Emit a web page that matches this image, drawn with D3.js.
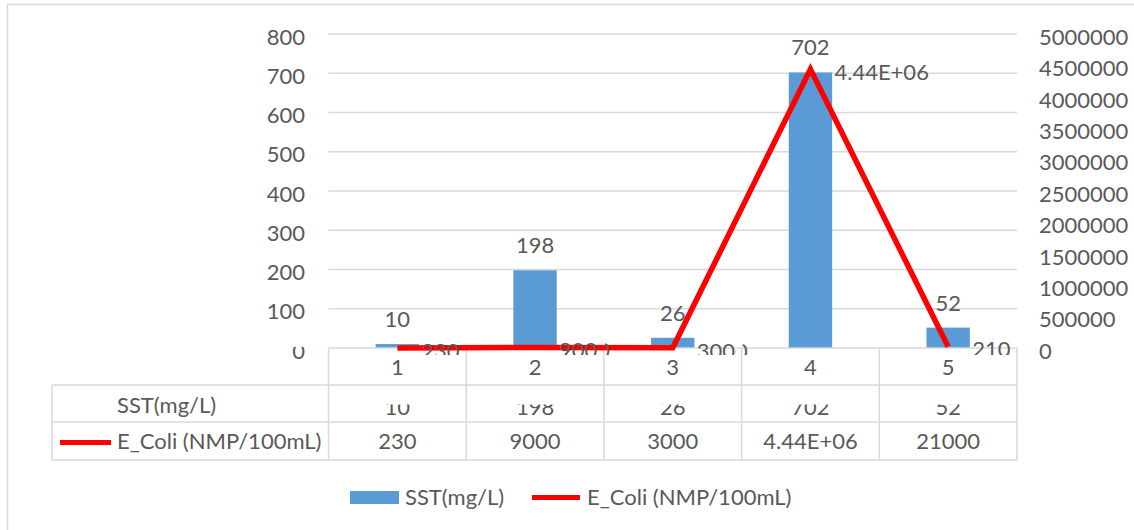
<!DOCTYPE html>
<html>
<head>
<meta charset="utf-8">
<script src="https://cdn.jsdelivr.net/npm/d3@7"></script>
<style>
  html, body { margin: 0; padding: 0; background: #fff; }
  svg { display: block; }
  text { font-family: Lato, "Open Sans", sans-serif; fill: #595959; }
</style>
</head>
<body>
<svg id="chart" width="1134" height="530"></svg>
<script>
const categories = ["1", "2", "3", "4", "5"];
const sstValues = [10, 198, 26, 702, 52];
const ecoliValues = [230, 9000, 3000, 4440000, 21000];
const ecoliLabels = ["230", "9000", "3000", "4.44E+06", "21000"];
const leftTicks = [0, 100, 200, 300, 400, 500, 600, 700, 800];
const rightTicks = [0, 500000, 1000000, 1500000, 2000000, 2500000, 3000000, 3500000, 4000000, 4500000, 5000000];
const SST_NAME = "SST(mg/L)";
const ECOLI_NAME = "E_Coli (NMP/100mL)";

const BAR_COLOR = "#5b9bd5";
const LINE_COLOR = "#ff0000";
const GRID_COLOR = "#d9d9d9";
const FONT_SIZE = 22;

const svg = d3.select("#chart");

const plot = { left: 328.5, right: 1017, top: 34, bottom: 348 };
const table = { left: 52, rowCat: 385, rowSst: 422, rowEcoli: 460 };

const x = d3.scaleBand().domain(categories).range([plot.left, plot.right]);
const yLeft = d3.scaleLinear().domain([0, 800]).range([plot.bottom, plot.top]);
const yRight = d3.scaleLinear().domain([0, 5000000]).range([plot.bottom, plot.top]);
const barWidth = x.bandwidth() * 0.315;
const cx = (d) => x(d) + x.bandwidth() / 2;

// chart frame (only the left and top edges are inside the picture)
svg.append("path")
  .attr("d", `M7.5,540V4.5H1140`)
  .attr("fill", "none")
  .attr("stroke", GRID_COLOR)
  .attr("stroke-width", 1.5);

const defs = svg.append("defs");
// labels are clipped by the plot area, and near the axis by each table cell
const labelClip = defs.append("clipPath").attr("id", "label-clip");
labelClip.append("rect")
  .attr("x", plot.left).attr("y", 0)
  .attr("width", plot.right - plot.left).attr("height", 340);
labelClip.selectAll("rect.cell")
  .data(categories)
  .join("rect")
  .attr("class", "cell")
  .attr("x", (d) => x(d) + 1)
  .attr("y", 339)
  .attr("width", x.bandwidth() - 7)
  .attr("height", 16);
defs.append("clipPath").attr("id", "zero-clip")
  .append("rect").attr("x", 0).attr("y", 347).attr("width", 330).attr("height", 30);
defs.append("clipPath").attr("id", "sst-row-clip")
  .append("rect").attr("x", plot.left).attr("y", 404.5).attr("width", 700).attr("height", 20);

// gridlines
svg.append("g")
  .selectAll("line")
  .data(leftTicks.filter((t) => t > 0))
  .join("line")
  .attr("x1", plot.left).attr("x2", plot.right)
  .attr("y1", (d) => yLeft(d)).attr("y2", (d) => yLeft(d))
  .attr("stroke", GRID_COLOR)
  .attr("stroke-width", 1.5);

// left axis labels
svg.append("g")
  .selectAll("text")
  .data(leftTicks)
  .join("text")
  .attr("x", 305)
  .attr("y", (d) => yLeft(d) + 3)
  .attr("dy", "0.35em")
  .attr("text-anchor", "end")
  .attr("clip-path", (d) => (d === 0 ? "url(#zero-clip)" : null))
  .style("font-size", FONT_SIZE + "px")
  .text((d) => d);

// right axis labels
svg.append("g")
  .selectAll("text")
  .data(rightTicks)
  .join("text")
  .attr("x", 1039)
  .attr("y", (d) => yRight(d) + 3)
  .attr("dy", "0.35em")
  .style("font-size", FONT_SIZE + "px")
  .text((d) => d);

// bars
svg.append("g")
  .selectAll("rect")
  .data(categories)
  .join("rect")
  .attr("x", (d) => cx(d) - barWidth / 2)
  .attr("y", (d, i) => yLeft(sstValues[i]))
  .attr("width", barWidth)
  .attr("height", (d, i) => plot.bottom - yLeft(sstValues[i]))
  .attr("fill", BAR_COLOR);

// bar labels
svg.append("g")
  .selectAll("text")
  .data(categories)
  .join("text")
  .attr("x", cx)
  .attr("y", (d, i) => yLeft(sstValues[i]) - 17)
  .attr("text-anchor", "middle")
  .style("font-size", FONT_SIZE + "px")
  .text((d, i) => sstValues[i]);

// table grid
const tableLines = svg.append("g")
  .attr("stroke", GRID_COLOR)
  .attr("stroke-width", 1.5)
  .attr("fill", "none");
tableLines.append("line")
  .attr("x1", plot.left).attr("x2", plot.right)
  .attr("y1", plot.bottom).attr("y2", plot.bottom);
tableLines.selectAll("line.row")
  .data([table.rowCat, table.rowSst, table.rowEcoli])
  .join("line")
  .attr("class", "row")
  .attr("x1", table.left).attr("x2", plot.right)
  .attr("y1", (d) => d).attr("y2", (d) => d);
tableLines.append("line")
  .attr("x1", table.left).attr("x2", table.left)
  .attr("y1", table.rowCat).attr("y2", table.rowEcoli);
tableLines.selectAll("line.col")
  .data(categories.map((c) => x(c)).concat([plot.right]))
  .join("line")
  .attr("class", "col")
  .attr("x1", (d) => d).attr("x2", (d) => d)
  .attr("y1", plot.bottom).attr("y2", table.rowEcoli);

// category labels
svg.append("g")
  .selectAll("text")
  .data(categories)
  .join("text")
  .attr("x", cx)
  .attr("y", 375)
  .attr("text-anchor", "middle")
  .style("font-size", FONT_SIZE + "px")
  .text((d) => d);

// table rows
svg.append("g")
  .attr("clip-path", "url(#sst-row-clip)")
  .selectAll("text")
  .data(categories)
  .join("text")
  .attr("x", cx)
  .attr("y", 415)
  .attr("text-anchor", "middle")
  .style("font-size", FONT_SIZE + "px")
  .text((d, i) => sstValues[i]);

svg.append("g")
  .selectAll("text")
  .data(categories)
  .join("text")
  .attr("x", cx)
  .attr("y", 449)
  .attr("text-anchor", "middle")
  .style("font-size", FONT_SIZE + "px")
  .text((d, i) => ecoliLabels[i]);

svg.append("text")
  .attr("x", 117).attr("y", 413)
  .style("font-size", FONT_SIZE + "px")
  .text(SST_NAME);
svg.append("text")
  .attr("x", 117).attr("y", 449)
  .style("font-size", FONT_SIZE + "px")
  .text(ECOLI_NAME);
svg.append("line")
  .attr("x1", 60).attr("x2", 111)
  .attr("y1", 442.5).attr("y2", 442.5)
  .attr("stroke", LINE_COLOR)
  .attr("stroke-width", 5);

// E_Coli line
const line = d3.line()
  .x((d, i) => cx(categories[i]))
  .y((d) => yRight(d));
svg.append("path")
  .datum(ecoliValues)
  .attr("d", line)
  .attr("fill", "none")
  .attr("stroke", LINE_COLOR)
  .attr("stroke-width", 5.5)
  .attr("stroke-linejoin", "miter");

// E_Coli labels
svg.append("g")
  .attr("clip-path", "url(#label-clip)")
  .selectAll("text")
  .data(categories)
  .join("text")
  .attr("x", (d) => cx(d) + 24)
  .attr("y", (d, i) => yRight(ecoliValues[i]) + 3)
  .attr("dy", "0.35em")
  .style("font-size", FONT_SIZE + "px")
  .text((d, i) => ecoliLabels[i]);

// legend
const legend = svg.append("g");
legend.append("rect")
  .attr("x", 350).attr("y", 491)
  .attr("width", 49).attr("height", 13)
  .attr("fill", BAR_COLOR);
legend.append("text")
  .attr("x", 405).attr("y", 505)
  .style("font-size", FONT_SIZE + "px")
  .text(SST_NAME);
legend.append("line")
  .attr("x1", 532).attr("x2", 580)
  .attr("y1", 497.5).attr("y2", 497.5)
  .attr("stroke", LINE_COLOR)
  .attr("stroke-width", 5);
legend.append("text")
  .attr("x", 587).attr("y", 505)
  .style("font-size", FONT_SIZE + "px")
  .text(ECOLI_NAME);
</script>
</body>
</html>
